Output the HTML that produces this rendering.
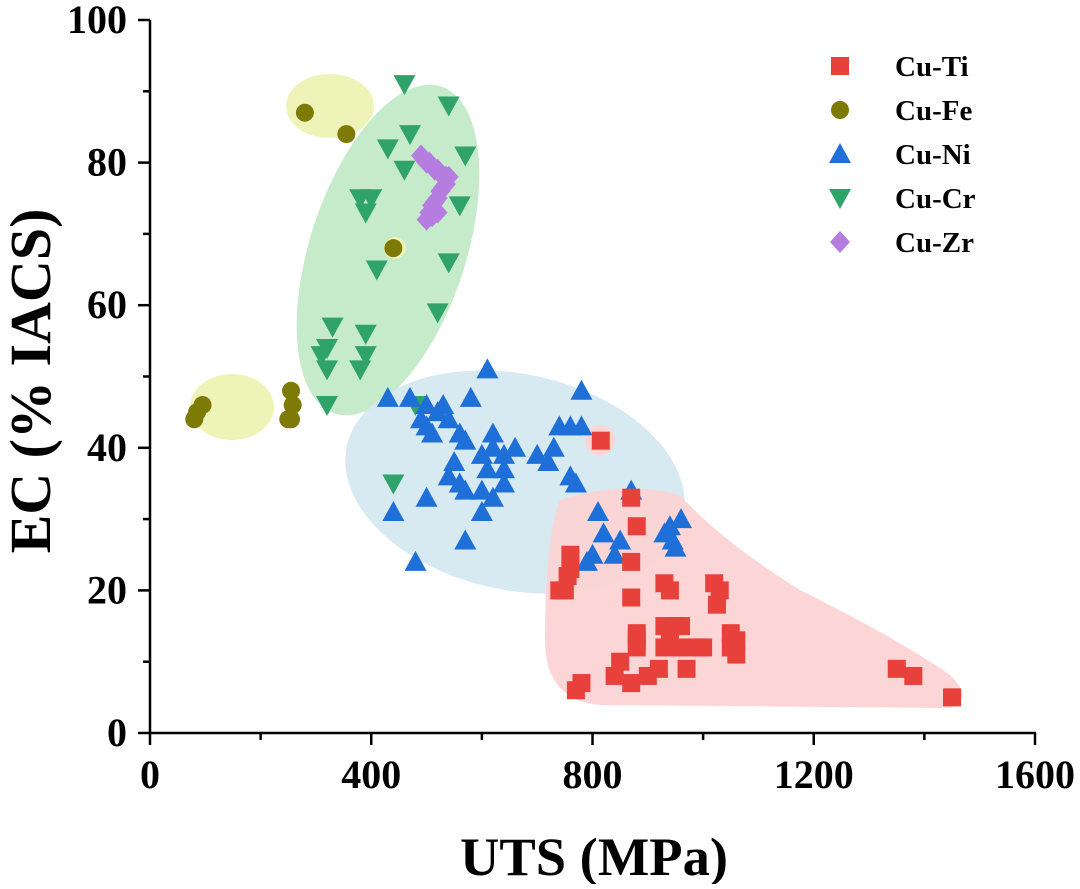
<!DOCTYPE html>
<html><head><meta charset="utf-8"><style>
body{margin:0;background:#fff}
text{font-family:"Liberation Serif",serif;font-weight:bold;fill:#000}
</style></head><body>
<svg id="chart" width="1080" height="884" xmlns="http://www.w3.org/2000/svg">
<g id="regions">
<ellipse cx="388" cy="250" rx="78" ry="172" transform="rotate(18 388 250)" fill="#bfe9c4" opacity="0.9"/>
<ellipse cx="330" cy="106" rx="44" ry="32" fill="#eef4b8"/>
<ellipse cx="232" cy="407" rx="42" ry="33" fill="#eef4b8"/>
<circle cx="395" cy="248" r="11" fill="#eef4b8"/>
<ellipse cx="515" cy="482" rx="172" ry="108" transform="rotate(12 515 482)" fill="#d5e8f0" opacity="0.95"/>
<path d="M560,500 Q620,480 680,495 Q720,540 800,590 Q900,640 950,675 Q975,700 950,708 L600,705 Q545,700 545,640 Q545,540 560,500 Z" fill="#fcd4d4" opacity="0.95"/>
<circle cx="600" cy="440" r="15" fill="#fcd4d4"/>
</g>
<g id="marks"></g>
<g id="axes">
<line x1="150" y1="20" x2="150" y2="733" stroke="#000" stroke-width="2.5"/>
<line x1="150" y1="733" x2="1036" y2="733" stroke="#000" stroke-width="2.5"/>
</g>
<text x="460" y="875" font-size="54" textLength="268" lengthAdjust="spacingAndGlyphs">UTS (MPa)</text>
<text x="0" y="0" font-size="58" text-anchor="middle" transform="translate(50 381) rotate(-90)">EC (% IACS)</text>
<g id="legend"></g>
</svg>
<script>
const xTicks=[0,400,800,1200,1600];
const yTicks=[0,20,40,60,80,100];
const tiX=[815,870,880,870,760,760,755,740,750,870,930,940,1020,1030,1025,880,880,880,930,950,940,960,960,990,1000,1050,1060,1050,1060,970,850,840,900,920,870,780,770,1350,1380,1450,930];
const tiY=[41,33,29,24,25,23,22,20,20,19,21,20,21,20,18,14,13,12,15,15,14,15,12,12,12,14,13,12,11,9,10,8,8,9,7,7,6,9,8,5,12];
const feX=[280,355,440,80,85,95,255,258,255,250];
const feY=[87,84,68,44,45,46,48,46,44,44];
const niX=[430,470,500,530,520,540,490,500,510,560,570,610,580,620,620,640,600,660,700,720,730,740,760,780,780,760,770,640,610,640,620,600,550,540,560,570,500,600,440,570,480,870,810,800,790,820,850,840,940,960,945,950,930];
const niY=[47,47,46,46,45,44,44,43,42,42,41,51,47,42,40,39,39,40,39,38,40,43,43,43,48,36,35,37,37,35,33,34,38,36,35,34,33,31,31,27,24,34,31,25,24,28,27,25,29,30,27,26,28];
const crX=[460,540,570,430,400,380,390,460,470,560,540,410,520,330,320,310,320,390,390,380,320,480,440];
const crY=[91,88,81,82,75,75,73,79,84,74,66,65,59,57,54,53,51,56,53,51,46,46,35];
const zrX=[490,495,500,505,510,515,520,525,530,535,540,535,530,525,520,515,510,505,500,510,520];
const zrY=[81,80.5,80,80,79.5,79,79,78.5,78,78,78,77,76.5,76,75,74.5,74,73,72,72.5,73];
const NS="http://www.w3.org/2000/svg";
const X=v=>150+v*885/1600, Y=v=>733-v*713/100;
const svg=document.getElementById('chart'), marks=document.getElementById('marks'), legend=document.getElementById('legend'), axes=document.getElementById('axes');
function mk(tag,attrs,parent){const e=document.createElementNS(NS,tag);for(const k in attrs)e.setAttribute(k,attrs[k]);parent.appendChild(e);return e;}
function shape(type,cx,cy,color,parent){
 let e;
 if(type==='sq') e=mk('rect',{x:cx-9,y:cy-9,width:18,height:18,fill:color},parent);
 else if(type==='ci') e=mk('circle',{cx:cx,cy:cy,r:9,fill:color},parent);
 else if(type==='up') e=mk('polygon',{points:`${cx},${cy-11} ${cx-11},${cy+9} ${cx+11},${cy+9}`,fill:color},parent);
 else if(type==='dn') e=mk('polygon',{points:`${cx},${cy+11} ${cx-11},${cy-9} ${cx+11},${cy-9}`,fill:color},parent);
 else e=mk('polygon',{points:`${cx},${cy-11} ${cx+10},${cy} ${cx},${cy+11} ${cx-10},${cy}`,fill:color},parent);
 return e;
}
const series=[
 {name:'Cu-Ti',t:'sq',c:'#e8403a',x:tiX,y:tiY},
 {name:'Cu-Fe',t:'ci',c:'#7d7a05',x:feX,y:feY},
 {name:'Cu-Ni',t:'up',c:'#1f6fd8',x:niX,y:niY},
 {name:'Cu-Cr',t:'dn',c:'#2fa36a',x:crX,y:crY},
 {name:'Cu-Zr',t:'di',c:'#b57de0',x:zrX,y:zrY}];
const order=[3,1,2,0,4];
order.forEach(si=>{const s=series[si];
 s.x.forEach((v,i)=>{const e=shape(s.t,X(v),Y(s.y[i]),s.c,marks);
  
  });});
series.forEach((s,i)=>{const cy=66+i*44;
 const e=shape(s.t,840,cy,s.c,legend);
 
 
 const t=mk('text',{x:895,y:cy+10,'font-size':29},legend);t.textContent=s.name;
 
 });
xTicks.forEach(v=>{mk('line',{x1:X(v),y1:733,x2:X(v),y2:745,stroke:'#000','stroke-width':2.5},axes);
 const t=mk('text',{x:X(v),y:788,'font-size':40,'text-anchor':'middle'},svg);t.textContent=v;
 
 });
for(let v=200;v<1600;v+=400)mk('line',{x1:X(v),y1:733,x2:X(v),y2:740,stroke:'#000','stroke-width':2.5},axes);
yTicks.forEach(v=>{mk('line',{x1:138,y1:Y(v),x2:150,y2:Y(v),stroke:'#000','stroke-width':2.5},axes);
 const t=mk('text',{x:127,y:Y(v)+13,'font-size':40,'text-anchor':'end'},svg);t.textContent=v;
 
 });
for(let v=10;v<100;v+=20)mk('line',{x1:143,y1:Y(v),x2:150,y2:Y(v),stroke:'#000','stroke-width':2.5},axes);
</script>
</body></html>
